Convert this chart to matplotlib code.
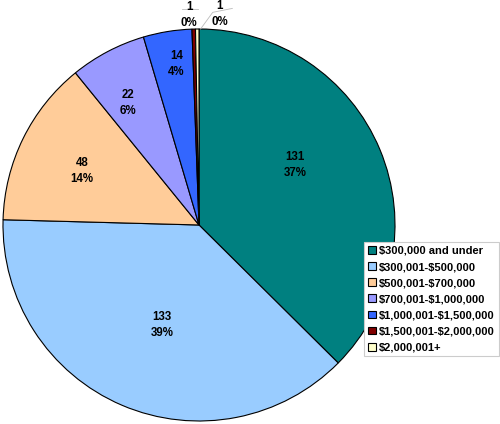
import matplotlib
matplotlib.use("Agg")
import matplotlib.pyplot as plt
import numpy as np

# ---- data ----
categories = ["\\$300,000 and under", "\\$300,001-\\$500,000", "\\$500,001-\\$700,000",
              "\\$700,001-\\$1,000,000", "\\$1,000,001-\\$1,500,000",
              "\\$1,500,001-\\$2,000,000", "\\$2,000,001+"]
values = [131, 133, 48, 22, 14, 1, 1]
pct_labels = ["37%", "39%", "14%", "6%", "4%", "0%", "0%"]
colors = ["#008080", "#99CCFF", "#FFCC99", "#9999FF", "#3366FF", "#800000", "#FFFFCC"]

# ---- layout ----
label_r = [0.578, 0.544, 0.657, 0.72, 0.83, None, None]
label_dang = [9.4, 2.8, 1.4, 2.4, -1.2, 0, 0]
outside_pos = {5: (-0.051, 1.072), 6: (0.107, 1.078)}

plt.rcParams['font.family'] = ['Liberation Sans', 'DejaVu Sans']
fig = plt.figure(figsize=(5.0, 4.24), dpi=100)
cx, cy, r = 199, 424 - 225, 196
ax = fig.add_axes([(cx - r) / 500, (cy - r) / 424, 2 * r / 500, 2 * r / 424])
wedges, _ = ax.pie(values, colors=colors, startangle=90, counterclock=False,
                   radius=1.0, wedgeprops=dict(edgecolor="black", linewidth=0.8))
ax.set_xlim(-1, 1)
ax.set_ylim(-1, 1)
ax.set_aspect("equal")
ax.axis("off")

for i, (w, v) in enumerate(zip(wedges, values)):
    txt = f"{v}\n{pct_labels[i]}"
    if label_r[i] is not None:
        ang = np.deg2rad((w.theta1 + w.theta2) / 2 + label_dang[i])
        x, y = label_r[i] * np.cos(ang), label_r[i] * np.sin(ang)
    else:
        x, y = outside_pos[i]
    ax.text(x, y, txt, ha="center", va="center", fontsize=8.3, fontweight="bold",
            linespacing=1.4, clip_on=False)

# leader lines for the tiny slices
ax.plot([-0.085, -0.005], [1.1, 1.1], color="#BBBBBB", lw=0.6, clip_on=False)
ax.plot([0.008, 0.07, 0.17], [1.0, 1.085, 1.105], color="#BBBBBB", lw=0.6, clip_on=False)

leg = fig.legend(wedges, categories, loc="upper left",
                 bbox_to_anchor=(364 / 500, 1 - 242 / 424),
                 frameon=True, fancybox=False, framealpha=1, edgecolor="#CCCCCC",
                 prop=dict(size=8, weight="bold"), handlelength=0.7, handleheight=0.7,
                 handletextpad=0.3, labelspacing=0.55, borderpad=0.35,
                 borderaxespad=0)
leg.get_frame().set_linewidth(0.8)

fig.savefig("out.png", dpi=100)
